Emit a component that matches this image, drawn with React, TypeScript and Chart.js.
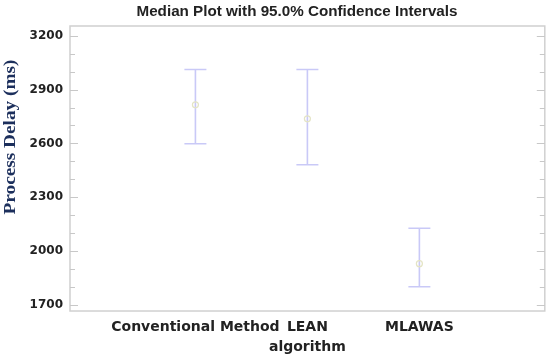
import React, { useEffect, useRef } from "react";
import { Chart, registerables } from "chart.js";

Chart.register(...registerables);

const categories: string[][] = [["Conventional Method"], ["LEAN", "algorithm"], ["MLAWAS"]];
const positions = [1, 2, 3];
const medians = [2815, 2737, 1929];
const lowerCI = [2598, 2481, 1800];
const upperCI = [3012, 3012, 2127];
const yMajorTicks = [1700, 2000, 2300, 2600, 2900, 3200];
const titleText = "Median Plot with 95.0% Confidence Intervals";
const yTitle = "Process Delay (ms)";

const overlay = {
  id: "overlay",
  beforeDatasetsDraw(chart: any) {
    const { ctx, chartArea: a, scales } = chart;
    const y = scales.y;
    const x = scales.x;
    ctx.save();
    ctx.strokeStyle = "#d0d0d0";
    ctx.lineWidth = 1.5;
    ctx.strokeRect(a.left, a.top, a.right - a.left, a.bottom - a.top);
    ctx.strokeStyle = "#c8c8c8";
    ctx.lineWidth = 1;
    for (let v = 1700; v <= 3200; v += 100) {
      const py = Math.round(y.getPixelForValue(v)) + 0.5;
      const major = yMajorTicks.includes(v);
      const len = major ? 8 : 5;
      ctx.beginPath();
      ctx.moveTo(a.left, py);
      ctx.lineTo(a.left + len, py);
      ctx.moveTo(a.right, py);
      ctx.lineTo(a.right - len, py);
      ctx.stroke();
    }
    ctx.strokeStyle = "#c9c9f7";
    ctx.lineWidth = 1.6;
    positions.forEach((p, i) => {
      const px = x.getPixelForValue(p);
      const yt = y.getPixelForValue(upperCI[i]);
      const yb = y.getPixelForValue(lowerCI[i]);
      ctx.beginPath();
      ctx.moveTo(px, yt);
      ctx.lineTo(px, yb);
      ctx.moveTo(px - 11, yt);
      ctx.lineTo(px + 11, yt);
      ctx.moveTo(px - 11, yb);
      ctx.lineTo(px + 11, yb);
      ctx.stroke();
    });
    ctx.restore();
  },
  afterDraw(chart: any) {
    const { ctx } = chart;
    ctx.save();
    ctx.fillStyle = "#222";
    ctx.font = "bold 14px 'Liberation Sans', Arial, sans-serif";
    ctx.textAlign = "center";
    ctx.textBaseline = "middle";
    const tw = ctx.measureText(titleText).width;
    ctx.translate(297, 12);
    ctx.scale(321 / tw, 1);
    ctx.fillText(titleText, 0, 0);
    ctx.restore();

    ctx.save();
    ctx.translate(11, 137);
    ctx.rotate(-Math.PI / 2);
    ctx.font = "bold 16px 'Liberation Serif', 'Times New Roman', serif";
    ctx.fillStyle = "#1c2f5c";
    ctx.textAlign = "center";
    ctx.textBaseline = "middle";
    const yw = ctx.measureText(yTitle).width;
    ctx.scale(155 / yw, 1);
    ctx.fillText(yTitle, 0, 0);
    ctx.restore();
  },
};

export default function App() {
  const ref = useRef<HTMLCanvasElement | null>(null);
  useEffect(() => {
    if (!ref.current) return;
    const chart = new Chart(ref.current, {
      type: "scatter",
      data: {
        datasets: [
          {
            data: positions.map((p, i) => ({ x: p, y: medians[i] })),
            pointRadius: 3,
            pointBackgroundColor: "rgba(0,0,0,0)",
            pointBorderColor: "#e4e4c4",
            pointBorderWidth: 1.2,
          },
        ],
      },
      plugins: [overlay],
      options: {
        animation: false,
        responsive: false,
        devicePixelRatio: 1,
        layout: { padding: { top: 26, right: 5, left: 0, bottom: 0 } },
        plugins: { legend: { display: false }, tooltip: { enabled: false }, title: { display: false } },
        scales: {
          x: {
            type: "linear",
            min: -0.12,
            max: 4.12,
            grid: { display: false, drawTicks: false },
            border: { display: false },
            afterBuildTicks: (s: any) => {
              s.ticks = positions.map((v) => ({ value: v }));
            },
            afterFit: (s: any) => {
              s.height = 46;
            },
            ticks: {
              autoSkip: false,
              maxRotation: 0,
              padding: 6,
              color: "#222",
              font: { family: "'DejaVu Sans', sans-serif", size: 14, weight: "bold", lineHeight: 1.43 },
              callback: (v: any) => {
                const i = positions.indexOf(Number(v));
                return i >= 0 ? categories[i] : "";
              },
            },
          },
          y: {
            min: 1665,
            max: 3255,
            grid: { display: false, drawTicks: false },
            border: { display: false },
            afterBuildTicks: (s: any) => {
              s.ticks = yMajorTicks.map((v) => ({ value: v }));
            },
            afterFit: (s: any) => {
              s.width = 70;
            },
            ticks: {
              padding: 7,
              color: "#222",
              font: { family: "'DejaVu Sans', sans-serif", size: 12, weight: "bold" },
              callback: (v: any) => String(v),
            },
          },
        },
      },
    });
    return () => chart.destroy();
  }, []);
  return (
    <div style={{ position: "fixed", left: 0, top: 0, width: 550, height: 357, background: "#fff" }}>
      <canvas ref={ref} width={550} height={357} style={{ width: 550, height: 357 }} />
    </div>
  );
}
